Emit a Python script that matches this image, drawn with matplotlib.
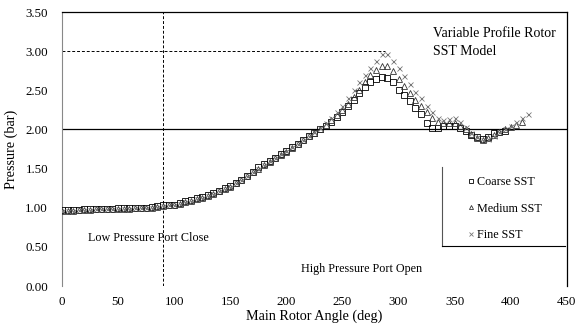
import matplotlib
matplotlib.use("Agg")
import matplotlib.pyplot as plt
import numpy as np

plt.rcParams['font.family'] = ['Liberation Serif', 'DejaVu Serif']

# Data (main rotor angle in degrees, pressure in bar)
angle = list(range(0, 420, 5))

coarse = [0.97, 0.97, 0.97, 0.97, 0.98, 0.98, 0.98, 0.99, 0.99, 0.99,
          1.00, 1.00, 1.00, 1.00, 1.00, 1.00, 1.01, 1.02, 1.03, 1.04,
          1.04, 1.06, 1.08, 1.10, 1.12, 1.14, 1.16, 1.19, 1.22, 1.25,
          1.28, 1.32, 1.36, 1.41, 1.46, 1.52, 1.56, 1.60, 1.64, 1.68,
          1.72, 1.77, 1.82, 1.87, 1.92, 1.96, 2.00, 2.05, 2.10, 2.16,
          2.22, 2.30, 2.38, 2.46, 2.54, 2.60, 2.64, 2.67, 2.66, 2.60,
          2.50, 2.44, 2.36, 2.28, 2.20, 2.08, 2.02, 2.02, 2.04, 2.04,
          2.04, 2.02, 1.98, 1.93, 1.90, 1.88, 1.90, 1.95, 1.97, 1.98]

medium = [0.96, 0.96, 0.96, 0.97, 0.97, 0.97, 0.98, 0.98, 0.98, 0.99,
          0.99, 0.99, 0.99, 1.00, 1.00, 1.00, 1.00, 1.01, 1.02, 1.03,
          1.04, 1.05, 1.07, 1.09, 1.11, 1.13, 1.15, 1.18, 1.21, 1.24,
          1.27, 1.31, 1.35, 1.40, 1.45, 1.50, 1.55, 1.59, 1.63, 1.67,
          1.71, 1.76, 1.81, 1.86, 1.91, 1.96, 2.01, 2.06, 2.12, 2.18,
          2.25, 2.33, 2.42, 2.51, 2.60, 2.69, 2.76, 2.81, 2.81, 2.75,
          2.65, 2.56, 2.47, 2.38, 2.30, 2.22, 2.15, 2.10, 2.08, 2.08,
          2.08, 2.05, 2.00, 1.94, 1.89, 1.87, 1.89, 1.93, 1.97, 2.00,
          2.03, 2.06, 2.10]

fine = [0.96, 0.96, 0.96, 0.97, 0.97, 0.97, 0.98, 0.98, 0.98, 0.99,
        0.99, 0.99, 0.99, 1.00, 1.00, 1.00, 1.00, 1.01, 1.02, 1.03,
        1.04, 1.05, 1.07, 1.09, 1.11, 1.13, 1.15, 1.18, 1.21, 1.24,
        1.27, 1.31, 1.35, 1.40, 1.45, 1.50, 1.55, 1.60, 1.64, 1.68,
        1.72, 1.77, 1.82, 1.87, 1.92, 1.97, 2.02, 2.08, 2.15, 2.22,
        2.30, 2.40, 2.50, 2.60, 2.70, 2.79, 2.88, 2.96, 2.96, 2.88,
        2.78, 2.68, 2.58, 2.48, 2.40, 2.30, 2.22, 2.15, 2.12, 2.13,
        2.14, 2.10, 2.03, 1.96, 1.90, 1.87, 1.88, 1.92, 1.97, 2.01,
        2.05, 2.09, 2.14, 2.20]

series_labels = ["Coarse SST", "Medium SST", "Fine SST"]
x_ticks = [0, 50, 100, 150, 200, 250, 300, 350, 400, 450]
y_ticks = [0.0, 0.5, 1.0, 1.5, 2.0, 2.5, 3.0, 3.5]

fig = plt.figure(figsize=(5.87, 3.30), dpi=100)
ax = fig.add_axes([0.1056, 0.1333, 0.8600, 0.8303])

ax.set_xlim(0, 450)
ax.set_ylim(0, 3.5)

# reference lines
ax.axhline(2.0, color='black', lw=0.9, zorder=1)
ax.plot([0, 288], [3.0, 3.0], color='black', lw=0.7, ls=(0, (3, 2)), zorder=1)
ax.axvline(90, color='black', lw=0.7, ls=(0, (3, 2)), zorder=1)

h1, = ax.plot(angle[:len(coarse)], coarse, ls='none', marker='s', ms=3.9,
              mfc='none', mec='black', mew=0.6, label=series_labels[0], zorder=3)
h2, = ax.plot(angle[:len(medium)], medium, ls='none', marker='^', ms=3.9,
              mfc='none', mec='#333333', mew=0.6, label=series_labels[1], zorder=3)
h3, = ax.plot(angle[:len(fine)], fine, ls='none', marker='x', ms=3.6,
              mec='#777777', mew=0.6, label=series_labels[2], zorder=3)

tick_fs = 9.3
ax.set_xticks(x_ticks)
ax.set_xticklabels([str(v) for v in x_ticks])
ax.set_yticks(y_ticks)
ax.set_yticklabels([f"{v:.2f}" for v in y_ticks])
ax.tick_params(axis='y', length=0, labelsize=tick_fs, pad=10)
ax.tick_params(axis='x', length=0, labelsize=tick_fs, pad=7)

for s in ['top', 'right']:
    ax.spines[s].set_color('black')
    ax.spines[s].set_linewidth(0.9)
ax.spines['left'].set_color('#888888')
ax.spines['left'].set_linewidth(0.8)
ax.spines['bottom'].set_visible(False)

ax.set_xlabel("Main Rotor Angle (deg)", fontsize=10.2, labelpad=1)
ax.set_ylabel("Pressure (bar)", fontsize=10.2, labelpad=5)

ann_fs = 8.7
ax.text(77, 0.61, "Low Pressure Port Close", fontsize=ann_fs, ha='center', va='center')
ax.text(267, 0.22, "High Pressure Port Open", fontsize=ann_fs, ha='center', va='center')
ax.text(331, 3.23, "Variable Profile Rotor", fontsize=10, ha='left', va='center')
ax.text(331, 3.00, "SST Model", fontsize=10, ha='left', va='center')

# legend with partial frame
ax.legend(handles=[h1, h2, h3], loc='upper left', bbox_to_anchor=(0.795, 0.42),
          frameon=False, fontsize=ann_fs, labelspacing=1.22, handlelength=0.4,
          handletextpad=0.35, borderaxespad=0, markerscale=0.75)
ax.plot([0.752, 0.752], [0.146, 0.434], transform=ax.transAxes, color='#555555',
        lw=0.8, clip_on=False)
ax.plot([0.752, 0.996], [0.146, 0.146], transform=ax.transAxes, color='black',
        lw=0.8, clip_on=False)

fig.savefig("out.png", dpi=100)
